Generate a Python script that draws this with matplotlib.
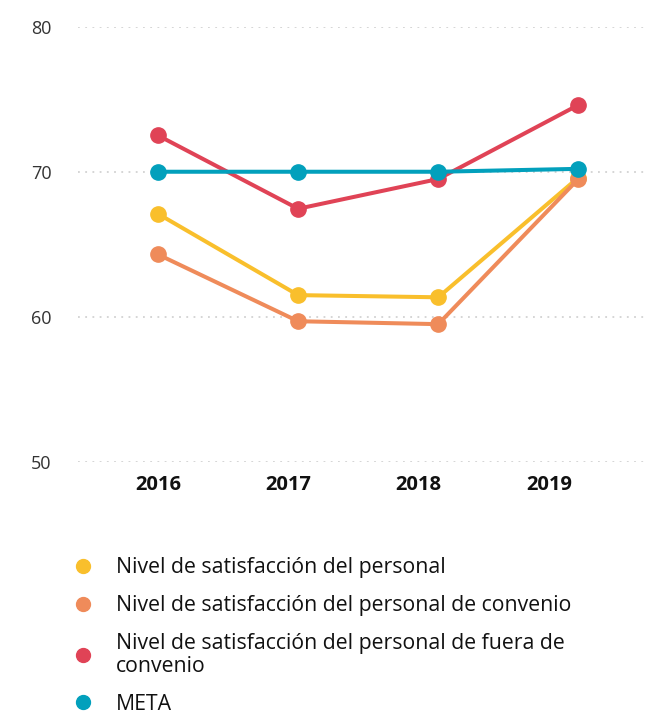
import numpy as np
import matplotlib
matplotlib.use("Agg")
import matplotlib.pyplot as plt
from matplotlib.lines import Line2D

plt.rcParams['font.family'] = ['Open Sans', 'DejaVu Sans']

# ------ DATOS ------
years = ["2016", "2017", "2018", "2019"]
personal = [67.1, 61.5, 61.35, 69.6]
convenio = [64.3, 59.7, 59.5, 69.5]
fuera_convenio = [72.5, 67.45, 69.5, 74.6]
meta = [70.0, 70.0, 70.0, 70.2]

labels = [
    "Nivel de satisfacción del personal",
    "Nivel de satisfacción del personal de convenio",
    "Nivel de satisfacción del personal de fuera de\nconvenio",
    "META",
]
colors = ["#F9BF2C", "#EF8B5A", "#E04356", "#02A0BC"]
series = [personal, convenio, fuera_convenio, meta]

# ------ FIGURA ------
fig = plt.figure(figsize=(6.47, 7.15), dpi=100)
ax = fig.add_axes([0.1206, 0.3538, 0.8794, 0.609])

x = np.arange(len(years))
for vals, col in zip(series, colors):
    ax.plot(x, vals, color=col, lw=2.9, marker='o', markersize=11,
            solid_capstyle='round')

ax.set_ylim(50, 80)
ax.set_xlim(-0.571, 3.49)
ax.set_yticks([50, 60, 70, 80])
for yv in [50, 60, 70, 80]:
    ax.axhline(yv, color='#d2d2d2', lw=1.3, linestyle=(0, (1, 3)), zorder=0)

# etiquetas de años desplazadas como en el original
ax.set_xticks(x * 0.93)
ax.set_xticklabels(years, fontsize=14.5, fontweight='bold', color='#111111')
ax.tick_params(axis='x', length=0, pad=9)
ax.tick_params(axis='y', length=0, pad=19, labelsize=13, labelcolor='#333333')
for s in ax.spines.values():
    s.set_visible(False)

# ------ LEYENDA ------
handles = [Line2D([], [], color=c, marker='o', linestyle='none', markersize=10)
           for c in colors]
leg = fig.legend(handles, labels, loc='upper left',
                 bbox_to_anchor=(0.114, 1 - 557 / 715), frameon=False,
                 fontsize=15.3, handlelength=0.85, handletextpad=1.15,
                 labelspacing=0.8, borderpad=0, borderaxespad=0)
for t in leg.get_texts():
    t.set_color('#111111')
    t.set_fontweight(500)
    t.set_linespacing(1.1)

fig.savefig("out.png", dpi=100)
